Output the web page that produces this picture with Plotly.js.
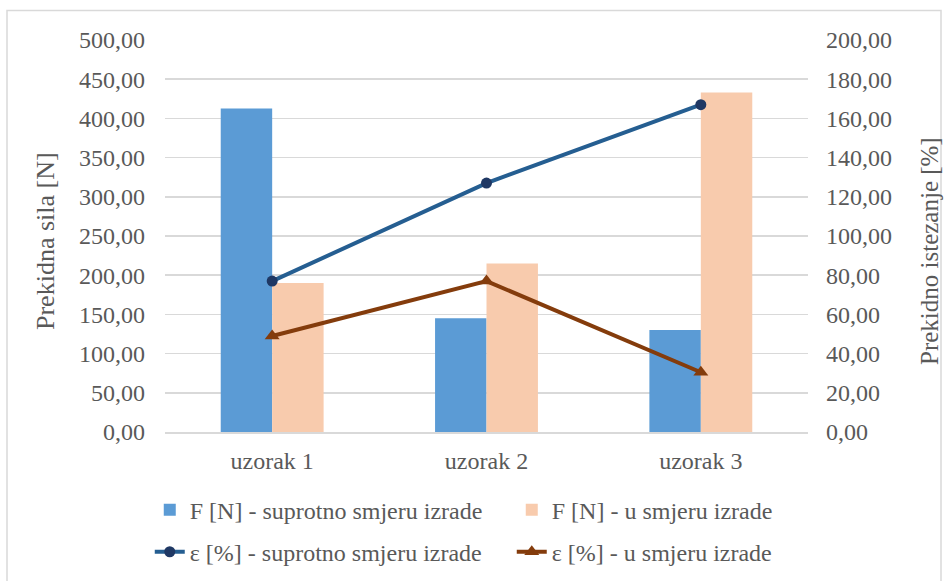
<!DOCTYPE html>
<html>
<head>
<meta charset="utf-8">
<script src="https://cdn.plot.ly/plotly-3.0.1.min.js"></script>
<style>
html,body{margin:0;padding:0;background:#fff;}
#chart{width:949px;height:581px;}
</style>
</head>
<body>
<div id="chart"></div>
<script>
const categories = ['uzorak 1', 'uzorak 2', 'uzorak 3'];
const forceAgainst = [412.5, 145.0, 130.0];
const forceAlong = [190.0, 215.0, 433.0];
const elongAgainst = [77.0, 127.0, 167.0];
const elongAlong = [49.0, 77.0, 30.5];
const seriesNames = [
  'F [N] - suprotno smjeru izrade',
  'F [N] - u smjeru izrade',
  'ε [%] - suprotno smjeru izrade',
  'ε [%] - u smjeru izrade'
];
const axisTitles = ['Prekidna sila [N]', 'Prekidno istezanje [%]'];

const FONT = 'Liberation Serif';
const GREY = '#595959';

const traces = [
  {type:'bar', x:categories, y:forceAgainst, name:seriesNames[0],
   marker:{color:'#5B9BD5'}, legend:'legend'},
  {type:'bar', x:categories, y:forceAlong, name:seriesNames[1],
   marker:{color:'#F8CBAD'}, legend:'legend'},
  {type:'scatter', mode:'lines+markers', x:categories, y:elongAgainst, yaxis:'y2',
   name:seriesNames[2], line:{color:'#255E91', width:4},
   marker:{symbol:'circle', size:11, color:'#1F3864'}, legend:'legend2'},
  {type:'scatter', mode:'lines+markers', x:categories, y:elongAlong, yaxis:'y2',
   name:seriesNames[3], line:{color:'#843C0C', width:4},
   marker:{symbol:'triangle-up', size:13, color:'#843C0C'}, legend:'legend2'}
];

const layout = {
  width:949, height:581,
  margin:{l:165, r:141, t:40, b:149, autoexpand:false},
  paper_bgcolor:'#ffffff', plot_bgcolor:'#ffffff',
  separators:',.',
  font:{family:FONT, size:24, color:GREY},
  barmode:'group', bargap:0.52, bargroupgap:0,
  showlegend:true,
  xaxis:{
    showgrid:false, showline:true, linecolor:'#D9D9D9', linewidth:2,
    ticks:'', ticklabelstandoff:6, tickfont:{family:FONT, size:24, color:GREY},
    fixedrange:true
  },
  yaxis:{
    range:[0,500], dtick:50, tickformat:'.2f',
    showgrid:true, gridcolor:'#D9D9D9', gridwidth:1.5, zeroline:false,
    ticks:'', ticklabelstandoff:19, tickfont:{family:FONT, size:24, color:GREY},
    automargin:false
  },
  yaxis2:{
    range:[0,200], dtick:20, tickformat:'.2f', overlaying:'y', side:'right',
    showgrid:false, zeroline:false,
    ticks:'', ticklabelstandoff:17, tickfont:{family:FONT, size:24, color:GREY},
    automargin:false
  },
  annotations:[
    {text:axisTitles[0], xref:'paper', yref:'paper', x:(45-165)/643, y:(432-241)/392,
     xanchor:'center', yanchor:'middle', textangle:-90, showarrow:false,
     font:{family:FONT, size:26, color:GREY}},
    {text:axisTitles[1], xref:'paper', yref:'paper', x:(930-165)/643, y:(432-251)/392,
     xanchor:'center', yanchor:'middle', textangle:-90, showarrow:false,
     font:{family:FONT, size:25, color:GREY}}
  ],
  legend:{
    orientation:'h', x:-0.0237, xanchor:'left', y:-0.1993, yanchor:'middle',
    entrywidth:317, entrywidthmode:'pixels',
    font:{family:FONT, size:24, color:GREY}, bgcolor:'rgba(0,0,0,0)'
  },
  legend2:{
    orientation:'h', x:-0.0237, xanchor:'left', y:-0.3065, yanchor:'middle',
    entrywidth:317, entrywidthmode:'pixels',
    font:{family:FONT, size:24, color:GREY}, bgcolor:'rgba(0,0,0,0)'
  },
  shapes:[{
    type:'rect', xref:'paper', yref:'paper',
    x0:(7-165)/643, x1:(941-165)/643, y0:(432-600)/392, y1:(432-10.5)/392,
    line:{color:'#D9D9D9', width:1.5}, fillcolor:'rgba(0,0,0,0)', layer:'below'
  }]
};

Plotly.newPlot('chart', traces, layout, {displayModeBar:false, staticPlot:true});
</script>
</body>
</html>
